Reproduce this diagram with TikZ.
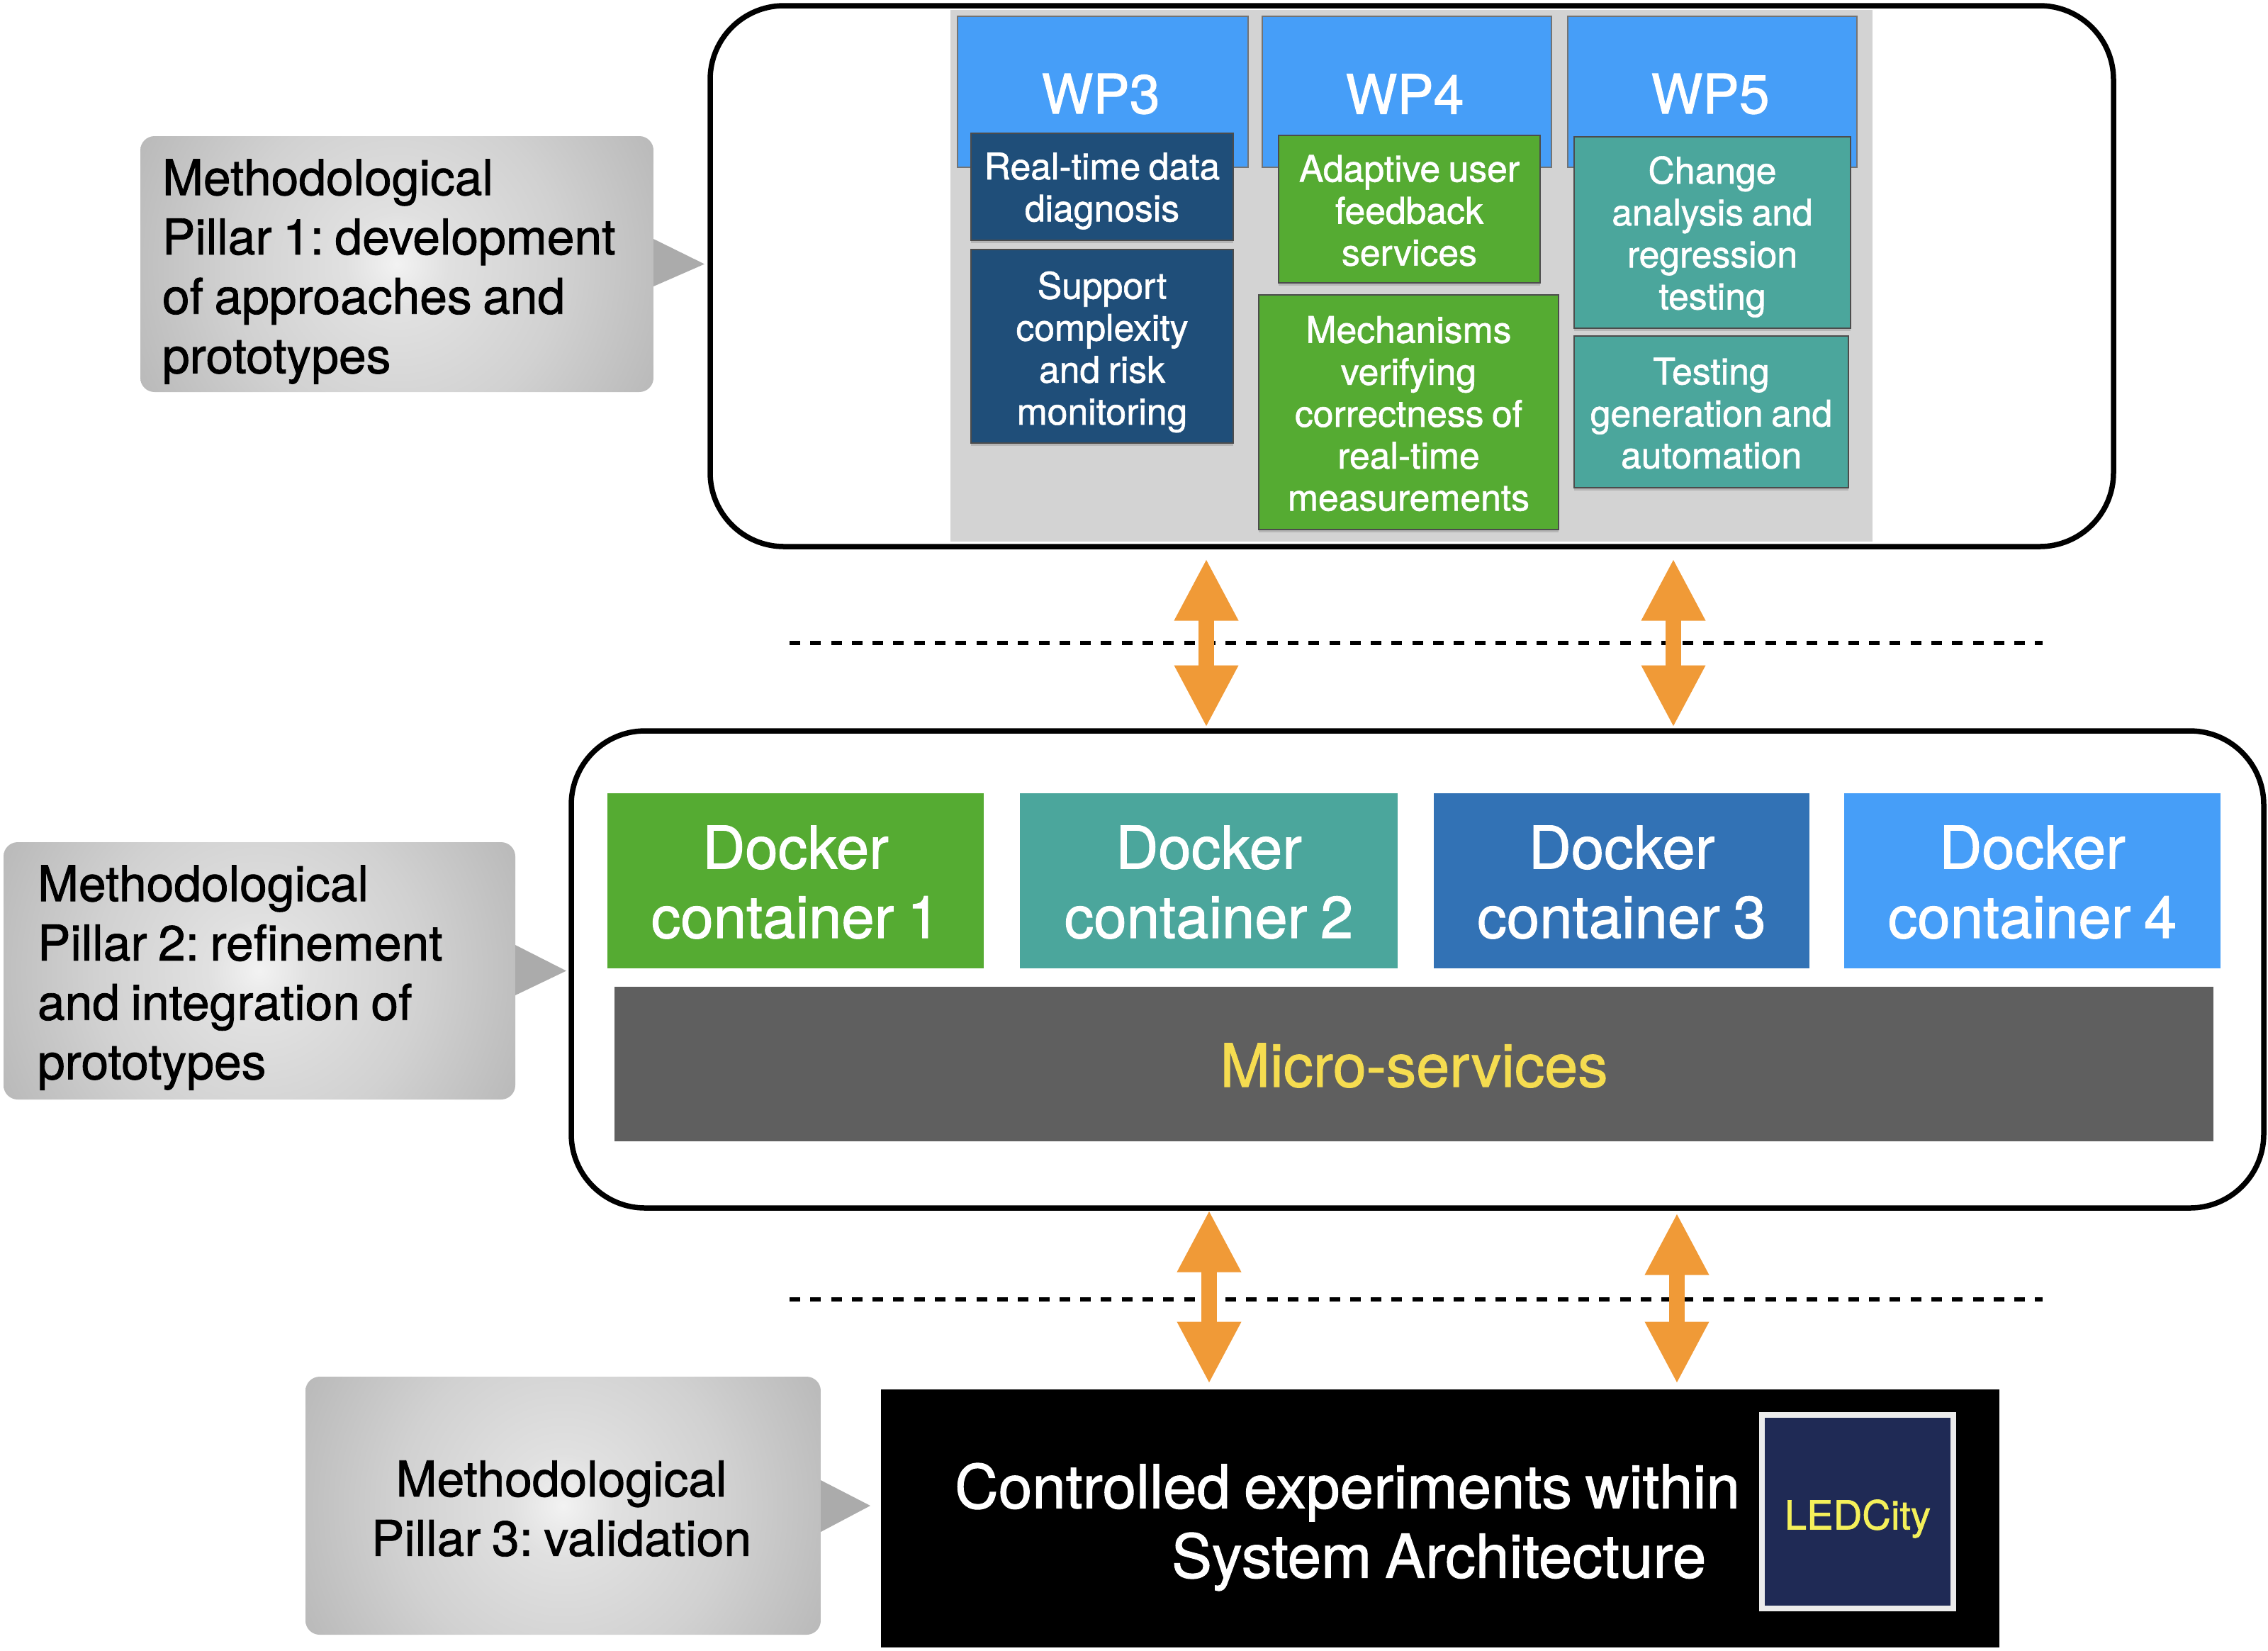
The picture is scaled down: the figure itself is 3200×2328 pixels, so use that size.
\documentclass[tikz,border=0pt]{standalone}
\usepackage{fontspec}
\setmainfont[FakeBold=1.2,WordSpace=0.8]{TeX Gyre Heros}
\usetikzlibrary{arrows.meta,shadows}
\definecolor{wpblue}{HTML}{469EF8}
\definecolor{navy}{HTML}{1F4E79}
\definecolor{leaf}{HTML}{55AB32}
\definecolor{teal2}{HTML}{4BA69C}
\definecolor{midblue}{HTML}{3272B5}
\definecolor{slate}{HTML}{5F5F5F}
\definecolor{amber}{HTML}{F09A37}
\definecolor{gold}{HTML}{F5DC50}
\definecolor{lemon}{HTML}{F4F05A}
\definecolor{ink}{HTML}{1F2A55}
\definecolor{sheet}{HTML}{D3D3D3}
\pgfdeclareradialshading{pillshade}{\pgfpoint{0bp}{0bp}}{rgb(0bp)=(0.95,0.95,0.95); rgb(5bp)=(0.88,0.88,0.88); rgb(16bp)=(0.82,0.82,0.82); rgb(30bp)=(0.71,0.71,0.71); rgb(35bp)=(0.67,0.67,0.67); rgb(72bp)=(0.67,0.67,0.67)}
% [text dy]{name}{x1}{y1}{x2}{y2}{shape style}{text style}{text}
\newcommand{\pxbox}[9][0]{%
 \pgfmathsetmacro{\bw}{(#5-#3)*0.24}\pgfmathsetmacro{\bh}{(#6-#4)*0.24}%
 \node[#7,minimum width=\bw pt,minimum height=\bh pt] (#2) at ({(#3+#5)/2},{(#4+#6)/2}) {};
 \node[lettering,#8] (#2t) at ({(#3+#5)/2},{(#4+#6)/2+#1}) {#9};}
\newcommand{\pillar}[7]{%
 \pgfmathsetmacro{\cx}{(#1+#3)/2}\pgfmathsetmacro{\cy}{(#2+#4)/2}\pgfmathsetmacro{\rr}{(#3-#1)/2}%
 \begin{scope}
 \clip[rounded corners=4.8pt] (#1,#2) rectangle (#3,#4);
 \shade[shading=pillshade] (\cx-\rr,\cy-\rr) rectangle (\cx+\rr,\cy+\rr);
 \end{scope}
 \fill[pilltip] (#3,#6) -- (#5,\cy) -- (#3,#7) -- cycle;}
\tikzset{
 pilltip/.style={fill=black!33},
 lettering/.style={inner sep=0pt,outer sep=0pt,align=center,text=white},
 flat/.style={inner sep=0pt,outer sep=0pt},
 sub/.style={flat,draw=black!70,line width=0.5pt,drop shadow={shadow xshift=0pt,shadow yshift=-1pt,opacity=0.35}},
 subt/.style={font=\fontsize{12.4}{14.2}\selectfont},
 wp/.style={flat,fill=wpblue,draw=black!55,line width=0.5pt},
 wpt/.style={font=\fontsize{18.5}{22}\selectfont},
 dockt/.style={font=\fontsize{20}{23.5}\selectfont},
 frame/.style={draw=black,line width=1.8pt,fill=white,rounded corners=25pt},
 pilltext/.style={inner sep=0pt,outer sep=0pt,text=black,font=\fontsize{16.7}{20.1}\selectfont},
 sep/.style={draw=black,line width=1.5pt,dash pattern=on 3.6pt off 3.43pt},
 dbl/.style={draw=amber,line width=5.2pt,{Triangle[width=20.2pt,length=21pt]}-{Triangle[width=20.2pt,length=21pt]}},
}
\begin{document}
\frenchspacing
\begin{tikzpicture}[x=0.24pt,y=-0.24pt]
\useasboundingbox (0,0) rectangle (3200,2328);
% top frame
\draw[frame] (1002,8) rectangle (2982,771);
\coordinate (topA) at (1702,788); \coordinate (midA) at (1702,1026);
\coordinate (topB) at (2361,788); \coordinate (midB) at (2361,1026);
\fill[sheet] (1341,14) rectangle (2642,764);
\pxbox[3]{wpthree}{1351}{23}{1761}{236}{wp}{wpt,xshift=-0.7pt}{WP3}
\pxbox[3]{wpfour}{1781}{23}{2189}{236}{wp}{wpt,xshift=-0.7pt}{WP4}
\pxbox[3]{wpfive}{2212}{23}{2620}{236}{wp}{wpt,xshift=-0.7pt}{WP5}
\pxbox[6]{rt}{1370}{188}{1740}{339}{sub,fill=navy}{subt}{Real-time data\\diagnosis}
\pxbox[8]{sc}{1370}{352}{1740}{625}{sub,fill=navy}{subt}{Support\\complexity\\and risk\\monitoring}
\pxbox[2]{au}{1804}{191}{2173}{399}{sub,fill=leaf}{subt}{Adaptive user\\feedback\\services}
\pxbox[2]{mv}{1776}{416}{2199}{747}{sub,fill=leaf}{subt}{Mechanisms\\verifying\\correctness of\\real-time\\measurements}
\pxbox[6]{ca}{2221}{193}{2611}{463}{sub,fill=teal2}{subt}{Change\\analysis and\\regression\\testing}
\pxbox[2]{tg}{2221}{474}{2608}{688}{sub,fill=teal2}{subt}{Testing\\generation and\\automation}
% middle frame
\draw[frame] (806,1031) rectangle (3194,1704);
\pxbox[2]{da}{857}{1119}{1388}{1366}{flat,fill=leaf}{dockt}{Docker\\container 1}
\pxbox[2]{db}{1439}{1119}{1972}{1366}{flat,fill=teal2}{dockt}{Docker\\container 2}
\pxbox[2]{dc}{2023}{1119}{2553}{1366}{flat,fill=midblue}{dockt}{Docker\\container 3}
\pxbox[2]{dd}{2602}{1119}{3133}{1366}{flat,fill=wpblue}{dockt}{Docker\\container 4}
\pxbox[2]{ms}{867}{1392}{3123}{1610}{flat,fill=slate}{dockt,font=\fontsize{20.3}{23.5}\selectfont,text=gold}{Micro-services}
% bottom block
\node[flat,fill=black,minimum width=378.72pt,minimum height=87.36pt] (ctl) at (2032,2142) {};
\node[lettering,font=\fontsize{20.5}{23.5}\selectfont] (ctltext) at (1901,2154) {Controlled experiments within\\\hspace*{62pt}System Architecture};
\pxbox[10]{logo}{2486}{1996}{2756}{2269}{flat,fill=ink,draw=white!92!black,line width=1.9pt}{text=lemon,font=\fontsize{13.5}{16}\selectfont}{LEDCity}
% separators
\coordinate (sa1) at (1114,907); \coordinate (sa2) at (2882,907);
\coordinate (sb1) at (1114,1833); \coordinate (sb2) at (2882,1833);
\draw[sep] (sa1) -- (sa2);
\draw[sep] (sb1) -- (sb2);
% arrows
\draw[dbl] (topA) -- (midA);
\draw[dbl] (topB) -- (midB);
\coordinate (lowA) at (1706,1707); \coordinate (baseA) at (1706,1952);
\coordinate (lowB) at (2366,1711); \coordinate (baseB) at (2366,1952);
\draw[dbl] (lowA) -- (baseA);
\draw[dbl] (lowB) -- (baseB);
% pillars
\pillar{198}{192}{922}{553}{994}{337}{404}
\node[pilltext,anchor=west,align=left] (pone) at (229,383) {Methodological\\Pillar 1: development\\of approaches and\\prototypes};
\pillar{5}{1188}{727}{1551}{799}{1333}{1404}
\node[pilltext,anchor=west,align=left] (ptwo) at (53,1379) {Methodological\\Pillar 2: refinement\\and integration of\\prototypes};
\pillar{431}{1942}{1158}{2306}{1228}{2088}{2161}
\node[pilltext,align=center] (pthree) at (792,2128) {Methodological\\Pillar 3: validation};
\end{tikzpicture}
\end{document}
